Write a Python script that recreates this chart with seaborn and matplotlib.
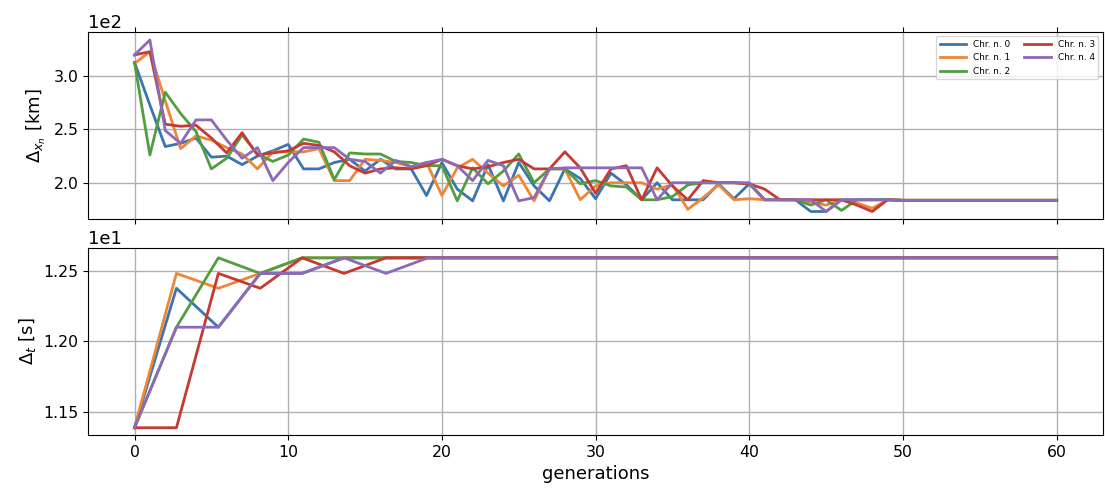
import numpy as np
import pandas as pd
import matplotlib.pyplot as plt
import seaborn as sns
from matplotlib.ticker import MultipleLocator

# distance error per generation [km], one list per chromosome
gens = np.arange(61)
dx_chr0 = [313, 273, 234, 237, 242, 224, 225, 217, 225, 230,
           236, 213, 213, 219, 222, 211, 222, 213, 213, 188,
           219, 194, 183, 217, 183, 219, 197, 183, 213, 204,
           185, 209, 198, 184, 200, 184, 184, 184, 199, 185,
           199, 184, 184, 184, 173, 173, 184, 184, 184, 184] + [183.5] * 11
dx_chr1 = [312, 323, 277, 232, 244, 240, 233, 227, 213, 229,
           229, 229, 232, 202, 202, 222, 221, 219, 215, 219,
           188, 214, 222, 209, 197, 207, 183, 213, 213, 184,
           197, 200, 200, 200, 194, 198, 175, 186, 198, 184,
           185, 184, 184, 184, 182, 179, 184, 181, 176, 184] + [183.5] * 11
dx_chr2 = [313, 226, 285, 265, 248, 213, 223, 245, 227, 220,
           226, 241, 238, 203, 228, 227, 227, 220, 219, 216,
           216, 183, 214, 199, 211, 227, 200, 213, 213, 199,
           202, 197, 196, 184, 184, 187, 198, 200, 200, 200,
           199, 184, 184, 184, 179, 184, 174, 184, 184, 184] + [183.5] * 11
dx_chr3 = [320, 323, 255, 253, 254, 242, 228, 247, 226, 228,
           230, 237, 235, 229, 216, 209, 213, 214, 213, 216,
           222, 216, 213, 215, 219, 222, 213, 213, 229, 214,
           190, 213, 216, 184, 214, 197, 184, 202, 200, 200,
           199, 194, 184, 184, 184, 184, 184, 179, 173, 184] + [183.5] * 11
dx_chr4 = [320, 334, 249, 237, 259, 259, 240, 223, 233, 202,
           219, 233, 233, 233, 222, 220, 209, 221, 215, 219,
           222, 216, 202, 221, 216, 183, 186, 213, 214, 214,
           214, 214, 214, 214, 184, 200, 200, 200, 200, 200,
           200, 184, 184, 184, 184, 173, 184, 184, 184, 184] + [183.5] * 11

# time error [s], sampled on 23 generations
t_gens = np.linspace(0, 60, 23)
dt_chr0 = [11.39, 12.375, 12.10, 12.48, 12.48] + [12.59] * 18
dt_chr1 = [11.39, 12.48, 12.375, 12.48] + [12.59] * 19
dt_chr2 = [11.39, 12.10, 12.59, 12.48] + [12.59] * 19
dt_chr3 = [11.39, 11.39, 12.48, 12.375, 12.59, 12.48] + [12.59] * 17
dt_chr4 = [11.39, 12.10, 12.10, 12.48, 12.48, 12.59, 12.48] + [12.59] * 16

labels = ['Chr. n. %d' % i for i in range(5)]
dx_all = [dx_chr0, dx_chr1, dx_chr2, dx_chr3, dx_chr4]
dt_all = [dt_chr0, dt_chr1, dt_chr2, dt_chr3, dt_chr4]

df_x = pd.concat([pd.DataFrame({'generations': gens, 'dx': v, 'chr': lab})
                  for v, lab in zip(dx_all, labels)])
df_t = pd.concat([pd.DataFrame({'generations': t_gens, 'dt': v, 'chr': lab})
                  for v, lab in zip(dt_all, labels)])

colors = ['#3b75af', '#ef8636', '#519e3e', '#c53a32', '#8d69b8']

plt.rcParams['xtick.labelsize'] = 11.3
plt.rcParams['ytick.labelsize'] = 11.3
plt.rcParams['axes.labelsize'] = 13

fig, axes = plt.subplots(2, 1, figsize=(11.05, 4.93), dpi=100, sharex=True)
fig.subplots_adjust(left=0.08, right=0.998, top=0.935, bottom=0.118, hspace=0.155)

sns.lineplot(data=df_x, x='generations', y='dx', hue='chr', palette=colors,
             linewidth=2.0, ax=axes[0])
sns.lineplot(data=df_t, x='generations', y='dt', hue='chr', palette=colors,
             linewidth=2.0, legend=False, ax=axes[1])

axes[0].set_ylabel(r'$\Delta_{x_n}$ [km]')
axes[1].set_ylabel(r'$\Delta_t$ [s]')
axes[0].set_xlabel('')
axes[1].set_xlabel('generations')

axes[0].set_ylim(166, 341.5)
axes[1].set_ylim(11.34, 12.66)
axes[0].yaxis.set_major_locator(MultipleLocator(50))
axes[1].yaxis.set_major_locator(MultipleLocator(0.5))
axes[0].tick_params(top=True)

for ax in axes:
    ax.ticklabel_format(style='sci', axis='y', scilimits=(0, 0))
    ax.yaxis.get_offset_text().set_fontsize(13)
    ax.grid(True, color='#b0b0b0', linewidth=1.0)

axes[0].legend(title=None, loc='upper right', ncol=2, fontsize=6.4,
               handlelength=3, columnspacing=1.5)

plt.savefig('out.png')
